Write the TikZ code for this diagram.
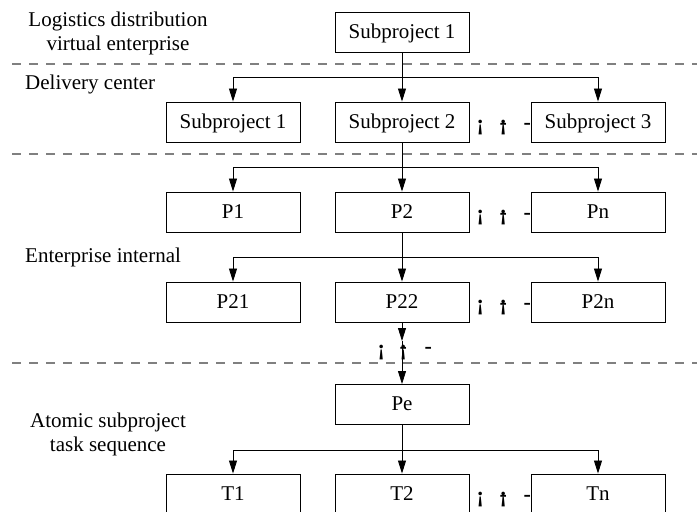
\documentclass[tikz,border=0pt]{standalone}
\usepackage{fontspec}
\setmainfont{Liberation Serif}
\usetikzlibrary{arrows.meta}
\newcommand{\garbled}[2]{\makebox[0pt]{¡}\hspace{#1}\makebox[0pt]{¡}\makebox[0pt]{\raisebox{1.5pt}{-}}\hspace{#2}\makebox[0pt]{\raisebox{1.5pt}{-}}}
\begin{document}
\begin{tikzpicture}[x=1pt,y=-1pt,
  box/.style={draw,line width=0.9pt,minimum width=134pt,minimum height=40pt,inner sep=0pt,
              text height=14pt,text depth=2pt,font=\fontsize{21}{24}\selectfont},
  lbl/.style={font=\fontsize{21}{24}\selectfont,inner sep=0pt,align=center},
  conn/.style={line width=0.8pt,-{Triangle[length=13pt,width=8pt]}},
  sepline/.style={gray,line width=1.1pt,dash pattern=on 9pt off 8pt},
  dotg/.style={font=\fontsize{22}{24}\selectfont\bfseries,inner sep=0pt,anchor=base west}]
\useasboundingbox (0,0) rectangle (697,512);

% separators
\draw[sepline] (12,64) -- (697,64);
\draw[sepline] (12,154) -- (697,154);
\draw[sepline] (12,363) -- (697,363);

% left labels
\node[lbl] (l1) at (118,33) {Logistics distribution\\virtual enterprise};
\node[lbl,anchor=base west] (l2) at (25,89) {Delivery center};
\node[lbl,anchor=base west] (l3) at (25,262) {Enterprise internal};
\node[lbl] (l4) at (108,434) {Atomic subproject\\task sequence};

% boxes
\node[box] (top) at (402,32) {Subproject 1};
\node[box] (s1) at (233,122) {Subproject 1};
\node[box] (s2) at (402,122) {Subproject 2};
\node[box] (s3) at (598,122) {Subproject 3};
\node[box] (p1) at (233,212) {P1};
\node[box] (p2) at (402,212) {P2};
\node[box] (pn) at (598,212) {Pn};
\node[box] (p21) at (233,302) {P21};
\node[box] (p22) at (402,302) {P22};
\node[box] (p2n) at (598,302) {P2n};
\node[box] (pe) at (402,404.5) {Pe};
\node[box] (t1) at (233,494) {T1};
\node[box] (t2) at (402,494) {T2};
\node[box] (tn) at (598,494) {Tn};

% junctions
\coordinate (h1) at (402,77);
\coordinate (h2) at (402,167);
\coordinate (h3) at (402,257);
\coordinate (m) at (402,341);
\coordinate (h4) at (402,450);

% connectors
\draw[conn] (top.south) -- (s2.north);
\draw[conn] (h1) -| (s1.north);
\draw[conn] (h1) -| (s3.north);
\draw[conn] (s2.south) -- (p2.north);
\draw[conn] (h2) -| (p1.north);
\draw[conn] (h2) -| (pn.north);
\draw[conn] (p2.south) -- (p22.north);
\draw[conn] (h3) -| (p21.north);
\draw[conn] (h3) -| (p2n.north);
\draw[conn] (p22.south) -- (m);
\draw[conn] (m) -- (pe.north);
\draw[conn] (pe.south) -- (t2.north);
\draw[conn] (h4) -| (t1.north);
\draw[conn] (h4) -| (tn.north);

% garbled ellipses
\node[dotg] (e2) at (480,130.5) {\garbled{23pt}{24pt}};
\node[dotg] (e3) at (480,220.5) {\garbled{23pt}{24pt}};
\node[dotg] (e4) at (480,310.5) {\garbled{23pt}{24pt}};
\node[dotg] (e6) at (480,502.5) {\garbled{23pt}{24pt}};
\node[dotg] (e5) at (381,355) {\garbled{22pt}{25pt}};
\end{tikzpicture}
\end{document}
